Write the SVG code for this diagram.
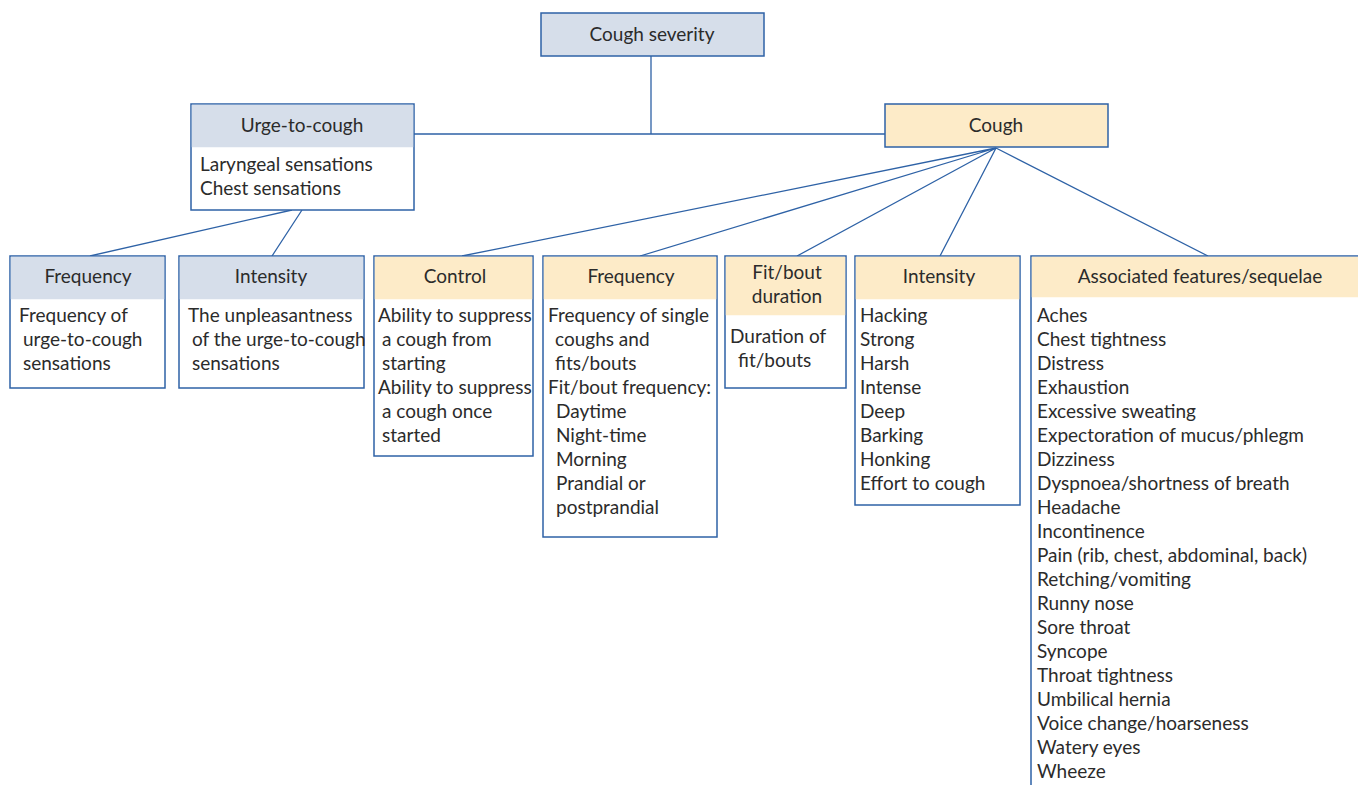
<svg xmlns="http://www.w3.org/2000/svg" width="1358" height="785" viewBox="0 0 1358 785">
<style>
.box{fill:#ffffff;stroke:#2e62a6;stroke-width:1.5}
.hb{fill:#d6deea}
.hy{fill:#fdebc8}
.ln{stroke:#2e62a6;stroke-width:1.3;fill:none}
text{font-family:"Source Sans Pro",Lato,"Noto Sans",sans-serif;font-size:19px;fill:#2b2b2b}
.c{text-anchor:middle}
</style>
<rect width="1358" height="785" fill="#ffffff"/>
<g id="connectors">
<path class="ln" d="M651,56 V134 M414,134 H885"/>
<path class="ln" d="M292,210 L90,256 M302,210 L272,256"/>
<path class="ln" d="M996,148 L462,256 M996,148 L640,256 M996,148 L797,256 M996,148 L940,256 M996,148 L1208,256"/>
</g>
<g id="cough-severity">
<rect x="541" y="13" width="223" height="43" class="box hb" style="stroke:#2e62a6"/>
<text x="652" y="41" class="c">Cough severity</text>
</g>
<g id="urge-to-cough">
<rect x="191" y="104" width="223" height="106" class="box"/>
<rect x="191.75" y="104.75" width="221.5" height="42.5" class="hb"/>
<text x="302" y="132" class="c">Urge-to-cough</text>
<text x="200" y="171">Laryngeal sensations</text>
<text x="200" y="195">Chest sensations</text>
</g>
<g id="cough">
<rect x="885" y="104" width="223" height="43" class="box hy" style="stroke:#2e62a6"/>
<text x="996" y="132" class="c">Cough</text>
</g>
<g id="urge-frequency">
<rect x="10" y="256" width="155" height="132" class="box"/>
<rect x="10.75" y="256.75" width="153.5" height="42.5" class="hb"/>
<text x="88" y="283" class="c">Frequency</text>
<text x="19" y="322">Frequency of</text>
<text x="23" y="346">urge-to-cough</text>
<text x="23" y="370">sensations</text>
</g>
<g id="urge-intensity">
<rect x="179" y="256" width="185" height="132" class="box"/>
<rect x="179.75" y="256.75" width="183.5" height="42.5" class="hb"/>
<text x="271" y="283" class="c">Intensity</text>
<text x="188" y="322">The unpleasantness</text>
<text x="192" y="346">of the urge-to-cough</text>
<text x="192" y="370">sensations</text>
</g>
<g id="control">
<rect x="374" y="256" width="159" height="200" class="box"/>
<rect x="374.75" y="256.75" width="157.5" height="42.5" class="hy"/>
<text x="455" y="283" class="c">Control</text>
<text x="378" y="322">Ability to suppress</text>
<text x="382" y="346">a cough from</text>
<text x="382" y="370">starting</text>
<text x="378" y="394">Ability to suppress</text>
<text x="382" y="418">a cough once</text>
<text x="382" y="442">started</text>
</g>
<g id="cough-frequency">
<rect x="543" y="256" width="174" height="281" class="box"/>
<rect x="543.75" y="256.75" width="172.5" height="42.5" class="hy"/>
<text x="631" y="283" class="c">Frequency</text>
<text x="548" y="322">Frequency of single</text>
<text x="555" y="346">coughs and</text>
<text x="555" y="370">fits/bouts</text>
<text x="548" y="394">Fit/bout frequency:</text>
<text x="556" y="418">Daytime</text>
<text x="556" y="442">Night-time</text>
<text x="556" y="466">Morning</text>
<text x="556" y="490">Prandial or</text>
<text x="556" y="514">postprandial</text>
</g>
<g id="fit-bout-duration">
<rect x="725" y="256" width="121" height="132" class="box"/>
<rect x="725.75" y="256.75" width="119.5" height="58.5" class="hy"/>
<text x="787" y="279" class="c">Fit/bout</text>
<text x="787" y="303" class="c">duration</text>
<text x="730" y="343">Duration of</text>
<text x="738" y="367">fit/bouts</text>
</g>
<g id="cough-intensity">
<rect x="855" y="256" width="165" height="249" class="box"/>
<rect x="855.75" y="256.75" width="163.5" height="42.5" class="hy"/>
<text x="939" y="283" class="c">Intensity</text>
<text x="860" y="322">Hacking</text>
<text x="860" y="346">Strong</text>
<text x="860" y="370">Harsh</text>
<text x="860" y="394">Intense</text>
<text x="860" y="418">Deep</text>
<text x="860" y="442">Barking</text>
<text x="860" y="466">Honking</text>
<text x="860" y="490">Effort to cough</text>
</g>
<g id="associated-features">
<rect x="1031" y="256" width="360" height="560" class="box"/>
<rect x="1031.75" y="256.75" width="358" height="40.5" class="hy"/>
<text x="1200" y="283" class="c">Associated features/sequelae</text>
<text x="1037" y="322">Aches</text>
<text x="1037" y="346">Chest tightness</text>
<text x="1037" y="370">Distress</text>
<text x="1037" y="394">Exhaustion</text>
<text x="1037" y="418">Excessive sweating</text>
<text x="1037" y="442">Expectoration of mucus/phlegm</text>
<text x="1037" y="466">Dizziness</text>
<text x="1037" y="490">Dyspnoea/shortness of breath</text>
<text x="1037" y="514">Headache</text>
<text x="1037" y="538">Incontinence</text>
<text x="1037" y="562">Pain (rib, chest, abdominal, back)</text>
<text x="1037" y="586">Retching/vomiting</text>
<text x="1037" y="610">Runny nose</text>
<text x="1037" y="634">Sore throat</text>
<text x="1037" y="658">Syncope</text>
<text x="1037" y="682">Throat tightness</text>
<text x="1037" y="706">Umbilical hernia</text>
<text x="1037" y="730">Voice change/hoarseness</text>
<text x="1037" y="754">Watery eyes</text>
<text x="1037" y="778">Wheeze</text>
</g>
</svg>
